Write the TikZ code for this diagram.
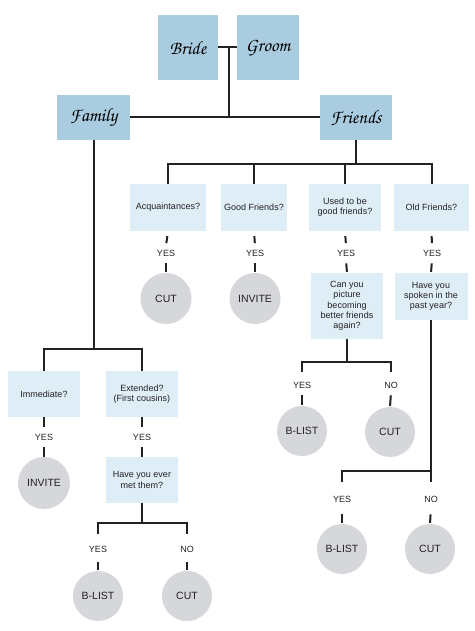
\documentclass[tikz,border=0pt]{standalone}
\usepackage[T1]{fontenc}
\usepackage{fontspec}
\setsansfont{Liberation Sans}
\usepackage{tikz}
\newcommand{\brushfont}{\fontencoding{T1}\fontfamily{pzc}\fontseries{mb}\fontshape{it}\selectfont}
\definecolor{headblue}{HTML}{A9CCE0}
\definecolor{qblue}{HTML}{DEEDF6}
\definecolor{endgray}{HTML}{D5D7DA}
\definecolor{ink}{HTML}{222222}

\begin{document}
\begin{tikzpicture}[x=1pt,y=-1pt,
	head/.style={fill=headblue,text=black,inner sep=0pt,font=\brushfont\fontsize{19}{21}\selectfont},
	qbox/.style={fill=qblue,text=ink,inner sep=0pt,align=center,font=\sffamily\fontsize{9}{10.3}\selectfont},
	endnode/.style={circle,fill=endgray,text=ink,minimum size=51pt,inner sep=0pt,font=\sffamily\fontsize{10.5}{12}\selectfont},
	ans/.style={inner sep=4pt,text=ink,font=\sffamily\fontsize{9}{10}\selectfont},
	link/.style={line width=2pt,draw=ink}]
	\useasboundingbox (0,0) rectangle (474,631);
	% bride and groom
	\node[head,minimum width=60pt,minimum height=65pt] (bride) at (188,47.5) {Bride};
	\node[head,minimum width=62pt,minimum height=65pt] (groom) at (268,47.5) {Groom};
	\node[head,minimum width=73pt,minimum height=45pt] (family) at (93.5,117.5) {Family};
	\node[head,minimum width=72pt,minimum height=45pt] (friends) at (356,117.5) {Friends};
	\coordinate (couple) at (228.5,47.5);
	\coordinate (split) at (228.5,117.5);
	\draw[link] (bride) -- (groom);
	\draw[link] (couple) -- (split);
	\draw[link] (family) -- (friends);

	% friends
	\node[qbox,minimum width=76pt,minimum height=47pt] (acq) at (168,207.5) {Acquaintances?};
	\node[qbox,minimum width=66pt,minimum height=47pt] (good) at (254,207.5) {Good Friends?};
	\node[qbox,minimum width=72pt,minimum height=47pt] (used) at (345,207.5) {Used to be\\good friends?};
	\node[qbox,minimum width=75pt,minimum height=47pt] (old) at (431.5,207.5) {Old Friends?};
	\coordinate (frj) at (356,164);
	\draw[link] (friends) -- (frj);
	\draw[link] (acq.north) |- (frj) -| (old.north);
	\draw[link] (good.north) -- (good.north |- frj);
	\draw[link] (used.north) -- (used.north |- frj);

	\node[ans] (yesacq) at (166,253) {YES};
	\node[ans] (yesgood) at (255,253) {YES};
	\node[ans] (yesused) at (346,253) {YES};
	\node[ans] (yesold) at (432,253) {YES};
	\node[endnode] (cutacq) at (166,298.5) {CUT};
	\node[endnode] (invgood) at (255,298.5) {INVITE};
	\node[qbox,minimum width=72pt,minimum height=66pt] (picture) at (347,306) {Can you\\picture\\becoming\\better friends\\again?};
	\node[qbox,minimum width=73pt,minimum height=47pt] (spoken) at (431,296.5) {Have you\\spoken in the\\past year?};
	\foreach \q/\a/\e in {acq/yesacq/cutacq,good/yesgood/invgood,used/yesused/picture,old/yesold/spoken}
	{
		\draw[link,shorten <=5pt,shorten >=2.5pt] (\q.south) -- (\a.north);
		\draw[link,shorten <=3pt,shorten >=1pt] (\a.south) -- (\e.north);
	}

	% can you picture
	\coordinate (picj) at (347,362);
	\node[ans] (yespic) at (302,385) {YES};
	\node[ans] (nopic) at (391,385) {NO};
	\node[endnode,minimum size=50pt] (blpic) at (302,431) {B-LIST};
	\node[endnode,minimum size=50pt] (cutpic) at (390,432) {CUT};
	\draw[link] (picture.south) -- (picj);
	\draw[link,shorten <=6pt] (yespic.north) |- (picj) -| ([yshift=6pt]nopic.north);
	\draw[link,shorten <=3pt,shorten >=1pt] (yespic.south) -- (blpic.north);
	\draw[link,shorten <=3pt,shorten >=1pt] (nopic.south) -- (cutpic.north);

	% spoken in the past year
	\coordinate (spkj) at (431,471);
	\node[ans] (yesspk) at (342,499) {YES};
	\node[ans] (nospk) at (431,499) {NO};
	\node[endnode,minimum size=50pt] (blspk) at (342,549) {B-LIST};
	\node[endnode,minimum size=50pt] (cutspk) at (430,549) {CUT};
	\draw[link,shorten >=10pt] (spoken.south) -- (nospk.north);
	\draw[link,shorten <=10pt] (yesspk.north) |- (spkj);
	\draw[link,shorten <=8pt,shorten >=1pt] (yesspk.south) -- (blspk.north);
	\draw[link,shorten <=8pt,shorten >=1pt] (nospk.south) -- (cutspk.north);

	% family
	\coordinate (famj) at (93.5,349);
	\node[qbox,minimum width=72pt,minimum height=46pt] (immed) at (44,394) {Immediate?};
	\node[qbox,minimum width=72pt,minimum height=46pt] (ext) at (142,394) {Extended?\\(First cousins)};
	\draw[link] (family) -- (famj);
	\draw[link] (immed.north) |- (famj) -| (ext.north);
	\node[ans] (yesimm) at (44,437) {YES};
	\node[ans] (yesext) at (142,437) {YES};
	\node[endnode,minimum size=52pt] (invimm) at (44,483) {INVITE};
	\node[qbox,minimum width=72pt,minimum height=46pt] (met) at (142,480) {Have you ever\\met them?};
	\foreach \q/\a/\e in {immed/yesimm/invimm,ext/yesext/met}
	{
		\draw[link,shorten >=2.5pt] (\q.south) -- (\a.north);
		\draw[link,shorten <=3pt] (\a.south) -- (\e.north);
	}

	% have you ever met them
	\coordinate (metj) at (142,523);
	\node[ans] (yesmet) at (98,549) {YES};
	\node[ans] (nomet) at (187,549) {NO};
	\node[endnode,minimum size=50pt] (blmet) at (98,596) {B-LIST};
	\node[endnode,minimum size=50pt] (cutmet) at (187,596) {CUT};
	\draw[link] (met.south) -- (metj);
	\draw[link,shorten <=8pt] (yesmet.north) |- (metj) -| ([yshift=8pt]nomet.north);
	\draw[link,shorten <=6pt,shorten >=1pt] (yesmet.south) -- (blmet.north);
	\draw[link,shorten <=6pt,shorten >=1pt] (nomet.south) -- (cutmet.north);
\end{tikzpicture}
\end{document}
